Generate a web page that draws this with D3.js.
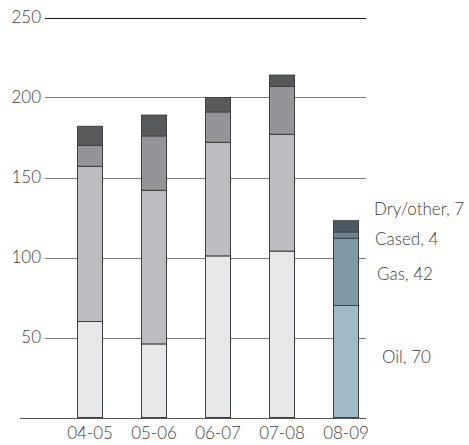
<!DOCTYPE html>
<html>
<head>
<meta charset="utf-8">
<script src="https://cdn.jsdelivr.net/npm/d3@7"></script>
<style>
  html, body { margin: 0; padding: 0; background: #fff; }
  svg { display: block; }
  text { font-family: Lato, "Open Sans", sans-serif; font-weight: 300; fill: #3d3d3d; }
</style>
</head>
<body>
<svg id="chart" width="469" height="445"></svg>
<script>
// Wells drilled per year, split by outcome
const years   = ["04-05", "05-06", "06-07", "07-08", "08-09"];
const oil     = [60, 46, 101, 104, 70];
const gas     = [97, 96, 71, 73, 42];
const cased   = [13, 34, 19, 30, 4];
const dry     = [12, 13, 9, 7, 7];
const yTicks  = [50, 100, 150, 200, 250];
const seriesNames = ["Oil", "Gas", "Cased", "Dry/other"];

// earlier years in greys, latest year in blue-greys
const greyFill = ["#e6e7e8", "#bcbdc0", "#939598", "#58595b"];
const blueFill = ["#9fbbc7", "#7f9ba8", "#6a8592", "#4a5b63"];

const FONT = "Lato, 'Open Sans', sans-serif";
const svg = d3.select("#chart");

const y = d3.scaleLinear().domain([0, 250]).range([417.5, 17.5]);
const x = d3.scaleBand().domain(years).range([58, 378])
  .paddingInner(0.59375).paddingOuter(0.296875);

const rows = years.map((yr, i) => ({ year: yr, Oil: oil[i], Gas: gas[i], Cased: cased[i], "Dry/other": dry[i] }));
const stacked = d3.stack().keys(seriesNames)(rows);

// gridlines
svg.append("g").selectAll("line").data(yTicks).join("line")
  .attr("x1", 45).attr("x2", 366)
  .attr("y1", d => Math.round(y(d)) + 0.5).attr("y2", d => Math.round(y(d)) + 0.5)
  .attr("stroke", d => d === 250 ? "#1a1a1a" : "#7a7a7a")
  .attr("stroke-width", 1);

// baseline
svg.append("line")
  .attr("x1", 20).attr("x2", 366)
  .attr("y1", Math.round(y(0)) + 0.5).attr("y2", Math.round(y(0)) + 0.5)
  .attr("stroke", "#555").attr("stroke-width", 1);

// y tick labels
const yAxis = d3.axisLeft(y).tickValues(yTicks).tickSize(0).tickPadding(0);
const gy = svg.append("g").attr("transform", "translate(41,0)").call(yAxis);
gy.select(".domain").remove();
gy.selectAll("text").style("font-size", "17px").style("font-weight", 300)
  .attr("fill", "#3d3d3d").style("font-family", FONT);

// stacked bars
const last = years.length - 1;
svg.append("g").selectAll("g").data(stacked).join("g")
  .each(function(layer, li) {
    d3.select(this).selectAll("rect").data(layer).join("rect")
      .attr("x", d => x(d.data.year) + 0.5)
      .attr("width", x.bandwidth() - 1)
      .attr("y", d => y(d[1]))
      .attr("height", d => y(d[0]) - y(d[1]))
      .attr("fill", (d, i) => i === last ? blueFill[li] : greyFill[li])
      .attr("stroke", "#3f3f3f")
      .attr("stroke-width", 1);
  });

// x labels
const xAxis = d3.axisBottom(x).tickSize(0).tickPadding(0);
const gx = svg.append("g").attr("transform", "translate(0,427)").call(xAxis);
gx.select(".domain").remove();
gx.selectAll("text").style("font-size", "17px").style("font-weight", 300)
  .attr("fill", "#3d3d3d").style("font-family", FONT);

// value labels for the latest year
const labelX = [382, 377, 375, 374];
const labelShift = [1.5, 8, 9.5, -11.5];
stacked.forEach((layer, li) => {
  const d = layer[last];
  const mid = y((d[0] + d[1]) / 2);
  svg.append("text")
    .attr("x", labelX[li])
    .attr("y", mid + labelShift[li])
    .style("font-size", "17px")
    .text(`${seriesNames[li]}, ${d[1] - d[0]}`);
});
</script>
</body>
</html>
